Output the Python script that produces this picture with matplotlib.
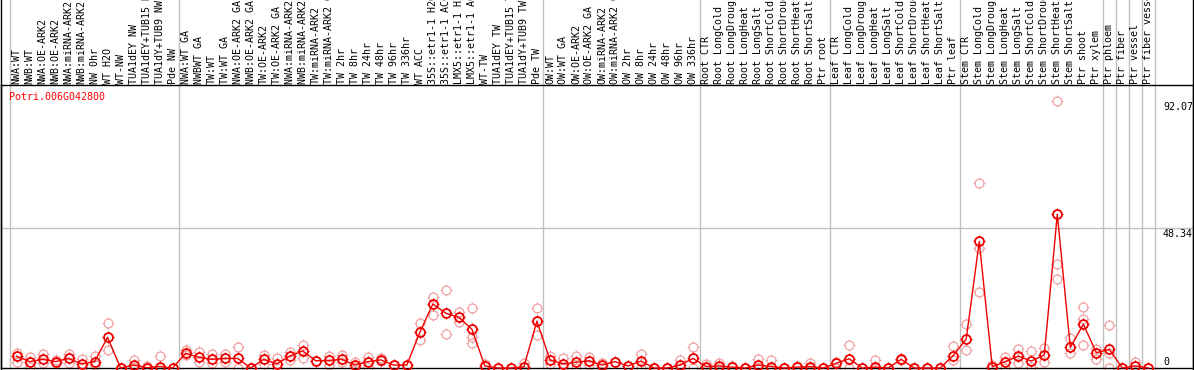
"""
Expression profile for Potri.006G042800 across poplar tissue / treatment samples.
Mean per sample as a red line, individual replicates as pale circles.
"""

import numpy as np
import matplotlib
matplotlib.use('Agg')
import matplotlib.pyplot as plt
from matplotlib.path import Path
from matplotlib.lines import Line2D

plt.rcParams['font.family'] = ['DejaVu Sans Mono']

GENE_ID = "Potri.006G042800"

# Sample labels, left to right
labels_nw = ["NWA:WT", "NWB:WT", "NWA:OE-ARK2", "NWB:OE-ARK2", "NWA:miRNA-ARK2",
             "NWB:miRNA-ARK2", "NW 0hr", "WT H2O", "WT-NW", "TUA1dEY NW",
             "TUA1dEY+TUB15 NW", "TUA1dY+TUB9 NW", "Pde NW"]
labels_tw = ["NWA:WT GA", "NWBWT GA", "TW:WT", "TW:WT GA", "NWA:OE-ARK2 GA",
             "NWB:OE-ARK2 GA", "TW:OE-ARK2", "TW:OE-ARK2 GA", "NWA:miRNA-ARK2 GA",
             "NWB:miRNA-ARK2 GA", "TW:miRNA-ARK2", "TW:miRNA-ARK2 GA", "TW 2hr",
             "TW 8hr", "TW 24hr", "TW 48hr", "TW 96hr", "TW 336hr", "WT ACC",
             "35S::etr1-1 H2O", "35S::etr1-1 ACC", "LMX5::etr1-1 H2O",
             "LMX5::etr1-1 ACC", "WT-TW", "TUA1dEY TW", "TUA1dEY+TUB15 TW",
             "TUA1dY+TUB9 TW", "Pde TW"]
labels_ow = ["OW:WT", "OW:WT GA", "OW:OE-ARK2", "OW:OE-ARK2 GA", "OW:miRNA-ARK2",
             "OW:miRNA-ARK2 GA", "OW 2hr", "OW 8hr", "OW 24hr", "OW 48hr",
             "OW 96hr", "OW 336hr"]
stress = ["CTR", "LongCold", "LongDrought", "LongHeat", "LongSalt",
          "ShortCold", "ShortDrought", "ShortHeat", "ShortSalt"]
labels_root = ["Root " + s for s in stress] + ["Ptr root"]
labels_leaf = ["Leaf " + s for s in stress] + ["Ptr leaf"]
labels_stem = ["Stem " + s for s in stress] + ["Ptr shoot", "Ptr xylem", "Ptr phloem",
                                             "Ptr fiber", "Ptr vessel", "Ptr fiber vessel"]
labels = labels_nw + labels_tw + labels_ow + labels_root + labels_leaf + labels_stem

# group boundaries (sample index where a separator line is drawn)
separators = [0, 13, 41, 53, 63, 73, 84, 85, 86, 87, 88]

# mean expression per sample
means = [
    4.1, 2.2, 3.0, 2.2, 3.3, 1.4, 2.2, 10.6, 0.0, 1.0, 0.1, 0.5, 0.0,
    5.1, 3.7, 3.0, 3.3, 3.3, 0.0, 3.0, 1.4, 4.1, 5.9, 2.5, 2.6, 3.0, 1.0,
    2.2, 2.8, 1.0, 1.0, 12.3, 22.1, 18.9, 17.5, 13.4, 0.7, 0.0, 0.0, 0.4, 16.2,
    2.8, 1.4, 2.0, 2.5, 1.0, 2.2, 0.7, 2.4, 0.0, 0.0, 1.0, 3.3,
    0.5, 0.7, 0.3, 0.0, 1.0, 0.5, 0.0, 0.3, 0.5, 0.0,
    1.6, 3.2, 0.0, 0.3, 0.0, 3.0, 0.0, 0.0, 0.0, 4.3,
    10.0, 43.7, 0.4, 2.2, 4.1, 2.4, 4.5, 53.1, 7.1, 15.1, 5.3, 6.4, 0.0, 0.7, 0.0,
]

# individual replicates per sample
replicates = [
    [5.3, 2.2], [3.9, 0.3], [4.8, 1.6], [2.6, 1.8], [4.8, 1.6], [3.0, 0.3],
    [4.1, 1.0], [15.4, 6.2], [0.0, 0.0], [2.8, 0.3], [0.8, 0.0], [4.1, 0.0], [0.0],
    [6.2, 4.5], [5.6, 2.0], [4.8, 1.6], [4.8, 1.9], [7.4, 0.0], [0.0], [4.5, 1.4],
    [3.3, 0.0], [5.6, 2.6], [7.8, 3.6], [2.5], [4.1, 1.0], [4.5, 2.2], [2.2, 0.3],
    [3.9, 0.3], [3.4, 2.3], [1.0], [1.0], [15.4, 9.7], [24.6, 18.3], [26.9, 11.7],
    [19.4, 16.0], [20.6, 10.8, 8.7], [1.4], [0.0], [0.0], [1.6], [20.6, 11.4],
    [4.1, 1.3], [3.3, 0.0], [4.1, 0.0], [3.9, 1.0], [1.6, 0.4], [2.2], [0.7],
    [4.8, 0.0], [0.0], [0.0], [2.6, 0.0], [7.1, 0.0],
    [1.4, 0.0], [1.8, 0.0], [0.8], [0.0], [3.0, 0.0], [2.6, 0.0], [0.0], [0.6],
    [1.6, 0.0], [0.0],
    [2.2, 0.0], [7.9, 0.0], [0.0], [2.6, 0.0], [0.0], [3.2, 2.6], [0.0], [0.0],
    [0.0], [7.6, 2.6],
    [15.2, 6.2], [63.8, 41.3, 26.2], [1.0], [3.9, 0.0], [6.4, 1.6], [5.9, 0.5],
    [6.8, 2.2], [92.07, 35.9, 30.6], [10.2, 5.1], [21.0, 16.8, 7.9], [6.4, 3.0],
    [14.7, 5.3, 0.0], [0.0], [2.2], [0.0],
]

ytick_values = [92.07, 48.34, 0]
ytick_labels = ["92.07", "48.34", "0"]
grid_value = 48.34

# layout in pixels
W, H = 1194, 370
PLOT_TOP, PLOT_BOTTOM = 85, 368
COL0_PX, COL_W = 10, 13.01
PX_PER_UNIT = 140 / 48.34

GRAY = '#c0c0c0'
REP_COLOR = '#f0a0a0'
MEAN_COLOR = '#ee0000'

TICK_EXT = 1.3
CIRCLE_MS = 6.4                  # circle diameter (pt)
TICK_MS = CIRCLE_MS * TICK_EXT   # overall size incl. ticks (pt)


def tick_marker():
    """Four short ticks around the circle, like the original glyph."""
    verts, codes = [], []
    for dx, dy in [(0, 1), (0, -1), (1, 0), (-1, 0)]:
        verts += [(dx, dy), (dx * TICK_EXT, dy * TICK_EXT)]
        codes += [Path.MOVETO, Path.LINETO]
    return Path(verts, codes)


fig = plt.figure(figsize=(W / 100, H / 100), dpi=100)
ax = fig.add_axes([1 / W, (H - PLOT_BOTTOM) / H, (W - 2) / W, (PLOT_BOTTOM - PLOT_TOP) / H])

x_left = (1 - COL0_PX) / COL_W
x_right = (W - 1 - COL0_PX) / COL_W
ax.set_xlim(x_left, x_right)
ax.set_ylim(0, (PLOT_BOTTOM - PLOT_TOP) / PX_PER_UNIT)
ax.set_xticks([])
ax.set_yticks([])
for sp in ax.spines.values():
    sp.set_color('black')
    sp.set_linewidth(1)

# separators run through the label band too
band = H / (PLOT_BOTTOM - PLOT_TOP)
for b in separators:
    ax.axvline(b, ymin=0, ymax=band, color=GRAY, lw=1, zorder=0, clip_on=False)
ax.axhline(grid_value, color=GRAY, lw=1, zorder=0)

# outer border through the label band
fig.add_artist(Line2D([0.6 / W, 0.6 / W], [0, 1], color='black', lw=1))
fig.add_artist(Line2D([(W - 1.0) / W, (W - 1.0) / W], [0, 1], color='black', lw=1))

xpos = np.arange(len(labels)) + 0.5
ticks = tick_marker()

rx, ry = [], []
for i, reps in enumerate(replicates):
    rx.extend([xpos[i]] * len(reps))
    ry.extend(reps)
ax.plot(rx, ry, linestyle='none', marker='o', ms=CIRCLE_MS, mec=REP_COLOR, mfc='none',
        mew=0.9, zorder=2, clip_on=False)
ax.plot(rx, ry, linestyle='none', marker=ticks, ms=TICK_MS, mec=REP_COLOR, mfc='none',
        mew=0.7, zorder=2, clip_on=False)

ax.plot(xpos, means, color=MEAN_COLOR, lw=1, zorder=3, clip_on=False)
ax.plot(xpos, means, linestyle='none', marker='o', ms=CIRCLE_MS, mec=MEAN_COLOR, mfc='none',
        mew=1.3, zorder=4, clip_on=False)
ax.plot(xpos, means, linestyle='none', marker=ticks, ms=TICK_MS, mec=MEAN_COLOR, mfc='none',
        mew=0.8, zorder=4, clip_on=False)

# sample labels, rotated, sitting on the plot's top edge
for xi, lab in zip(xpos, labels):
    ax.text(xi, 1.0 + 1.5 / (PLOT_BOTTOM - PLOT_TOP), lab, rotation=90, ha='center',
            va='bottom', fontsize=7.2, color='black',
            transform=ax.get_xaxis_transform(), clip_on=False)

ax.text(-0.05, (PLOT_BOTTOM - 97) / PX_PER_UNIT, GENE_ID, color='red', fontsize=7.2,
        ha='left', va='center')

ylab_x = (1163 - COL0_PX) / COL_W
for v, t in zip(ytick_values, ytick_labels):
    if v == 0:
        ax.text(ylab_x, v + 0.4, t, fontsize=7.2, ha='left', va='bottom')
    else:
        ax.text(ylab_x, v - 0.3, t, fontsize=7.2, ha='left', va='top')

fig.savefig('out.png', dpi=100)
